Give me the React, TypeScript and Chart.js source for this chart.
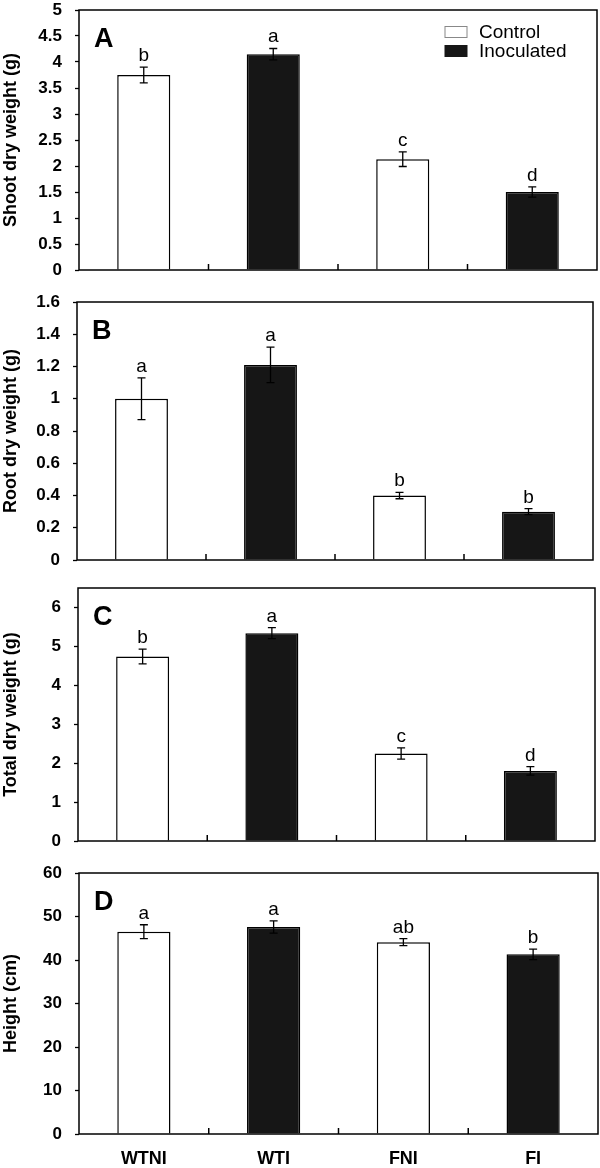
import React, { useEffect, useRef } from "react";
import { Chart, registerables } from "chart.js";
Chart.register(...registerables);

const categories = ["WTNI", "WTI", "FNI", "FI"];
const seriesNames = ["Control", "Inoculated"];
const seriesOfCategory = [0, 1, 0, 1];

const shootValues = [3.75, 4.15, 2.13, 1.5];
const shootErrors = [0.15, 0.11, 0.14, 0.1];
const shootLetters = ["b", "a", "c", "d"];

const rootValues = [1.0, 1.21, 0.4, 0.3];
const rootErrors = [0.13, 0.11, 0.02, 0.018];
const rootLetters = ["a", "a", "b", "b"];

const totalValues = [4.74, 5.34, 2.25, 1.8];
const totalErrors = [0.19, 0.14, 0.145, 0.11];
const totalLetters = ["b", "a", "c", "d"];

const heightValues = [46.5, 47.6, 44.1, 41.3];
const heightErrors = [1.6, 1.4, 0.8, 1.2];
const heightLetters = ["a", "a", "ab", "b"];

const axisMax = [5, 1.6, 6.5, 60];
const axisTickMax = [5, 1.6, 6, 60];
const axisStep = [0.5, 0.2, 1, 10];
const axisTitles = ["Shoot dry weight (g)", "Root dry weight (g)", "Total dry weight (g)", "Height (cm)"];
const panelLetters = ["A", "B", "C", "D"];

const FONT = "'Liberation Sans', Arial, Helvetica, sans-serif";
const BLACK = "#161616";

type Panel = {
  values: number[];
  errors: number[];
  letters: string[];
  idx: number;
  top: number;
  height: number;
  padTop: number;
  padBottom: number;
  left: number;
  right: number;
  showX: boolean;
  legend: boolean;
};

const panels: Panel[] = [
  { values: shootValues, errors: shootErrors, letters: shootLetters, idx: 0, top: 0, height: 285, padTop: 10, padBottom: 15, left: 79, right: 597, showX: false, legend: true },
  { values: rootValues, errors: rootErrors, letters: rootLetters, idx: 1, top: 285, height: 290, padTop: 17, padBottom: 15, left: 77, right: 593, showX: false, legend: false },
  { values: totalValues, errors: totalErrors, letters: totalLetters, idx: 2, top: 575, height: 281, padTop: 13, padBottom: 15, left: 78, right: 595, showX: false, legend: false },
  { values: heightValues, errors: heightErrors, letters: heightLetters, idx: 3, top: 856, height: 312, padTop: 17, padBottom: 0, left: 79, right: 598, showX: true, legend: false },
];

function PanelChart({ p }: { p: Panel }) {
  const ref = useRef<HTMLCanvasElement | null>(null);
  useEffect(() => {
    if (!ref.current) return;
    const step = axisStep[p.idx];
    const overlay = {
      id: "overlay" + p.idx,
      afterDatasetsDraw(chart: any) {
        const ctx = chart.ctx;
        const area = chart.chartArea;
        const xs = chart.scales.x;
        const ys = chart.scales.y;
        ctx.save();
        ctx.strokeStyle = "#000";
        ctx.lineWidth = 1.5;
        ctx.strokeRect(area.left, area.top, area.right - area.left, area.bottom - area.top);
        for (let i = 0; i < categories.length - 1; i++) {
          const x = (xs.getPixelForValue(i) + xs.getPixelForValue(i + 1)) / 2;
          ctx.beginPath();
          ctx.moveTo(x, area.bottom);
          ctx.lineTo(x, area.bottom - 6);
          ctx.stroke();
        }
        ctx.lineWidth = 1.3;
        for (let i = 0; i < p.values.length; i++) {
          const x = xs.getPixelForValue(i);
          const yt = ys.getPixelForValue(p.values[i] + p.errors[i]);
          const yb = ys.getPixelForValue(p.values[i] - p.errors[i]);
          ctx.strokeStyle = "#000";
          ctx.beginPath();
          ctx.moveTo(x, yt);
          ctx.lineTo(x, yb);
          ctx.moveTo(x - 4, yt);
          ctx.lineTo(x + 4, yt);
          ctx.moveTo(x - 4, yb);
          ctx.lineTo(x + 4, yb);
          ctx.stroke();
          ctx.fillStyle = "#000";
          ctx.font = `19px ${FONT}`;
          ctx.textAlign = "center";
          ctx.textBaseline = "alphabetic";
          ctx.fillText(p.letters[i], x, yt - 6);
        }
        ctx.font = `bold 27px ${FONT}`;
        ctx.textAlign = "left";
        ctx.textBaseline = "alphabetic";
        ctx.fillText(panelLetters[p.idx], area.left + 15, area.top + 37);
        if (p.legend) {
          const bx = area.right - 152;
          chart.data.datasets.forEach((ds: any, k: number) => {
            const cy = area.top + 22 + k * 19;
            ctx.fillStyle = ds.backgroundColor;
            ctx.fillRect(bx, cy - 5.5, 22, 11);
            ctx.strokeStyle = k === 0 ? "#888" : BLACK;
            ctx.lineWidth = 1;
            ctx.strokeRect(bx, cy - 5.5, 22, 11);
            ctx.fillStyle = "#000";
            ctx.font = `19px ${FONT}`;
            ctx.textAlign = "left";
            ctx.textBaseline = "middle";
            ctx.fillText(ds.label, bx + 34, cy + 1);
          });
        }
        ctx.restore();
      },
    };
    const chart = new Chart(ref.current, {
      type: "bar",
      data: {
        labels: categories,
        datasets: seriesNames.map((name, s) => ({
          label: name,
          data: p.values.map((v, i) => (seriesOfCategory[i] === s ? v : null)),
          backgroundColor: s === 0 ? "#ffffff" : BLACK,
          borderColor: "#000",
          borderWidth: 1.5,
          borderSkipped: "start",
          barPercentage: 0.41,
          categoryPercentage: 1,
          grouped: false,
        })),
      },
      options: {
        animation: false,
        responsive: false,
        devicePixelRatio: 1,
        layout: { padding: { top: p.padTop, bottom: p.padBottom, left: 0, right: 600 - p.right } },
        plugins: { legend: { display: false }, tooltip: { enabled: false } },
        scales: {
          x: {
            display: p.showX,
            grid: { display: false },
            border: { display: false },
            ticks: { color: "#000", font: { family: FONT, size: 18, weight: "bold" }, padding: 6 },
            afterFit: (scale: any) => {
              if (p.showX) scale.height = 34;
            },
          },
          y: {
            min: 0,
            max: axisMax[p.idx],
            border: { display: false },
            grid: { drawOnChartArea: false, drawTicks: true, tickLength: 4, tickColor: "#000", tickWidth: 1.3 },
            ticks: {
              autoSkip: false,
              color: "#000",
              font: { family: FONT, size: 17, weight: "bold" },
              padding: 13,
              callback: (v: any) => String(Math.round(Number(v) * 100) / 100),
            },
            title: { display: true, text: axisTitles[p.idx], color: "#000", font: { family: FONT, size: 18, weight: "bold" }, padding: 0 },
            afterBuildTicks: (scale: any) => {
              const n = Math.round(axisTickMax[p.idx] / step);
              const ticks = [];
              for (let k = 0; k <= n; k++) ticks.push({ value: Math.round(k * step * 1000) / 1000 });
              scale.ticks = ticks;
            },
            afterFit: (scale: any) => {
              scale.width = p.left;
              scale.paddingTop = 0;
              scale.paddingBottom = 0;
            },
          },
        },
      },
      plugins: [overlay],
    } as any);
    return () => chart.destroy();
  }, [p]);
  return (
    <canvas
      ref={ref}
      width={600}
      height={p.height}
      style={{ position: "absolute", left: 0, top: p.top, width: 600, height: p.height, display: "block" }}
    />
  );
}

export default function App() {
  return (
    <div style={{ position: "absolute", left: 0, top: 0, width: 600, height: 1168, background: "#fff" }}>
      {panels.map((p) => (
        <PanelChart key={p.idx} p={p} />
      ))}
    </div>
  );
}
